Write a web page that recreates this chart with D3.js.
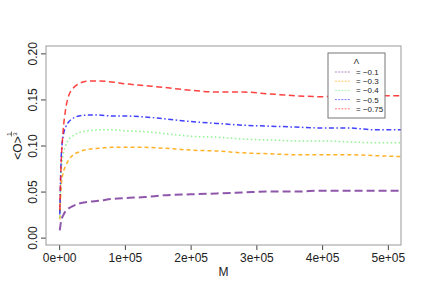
<!DOCTYPE html>
<html>
<head>
<meta charset="utf-8">
<script src="https://cdn.jsdelivr.net/npm/d3@7"></script>
<style>
  body { margin: 0; background: #fff; }
  svg { font-family: "Liberation Sans", Arial, sans-serif; }
</style>
</head>
<body>
<div id="chart"></div>
<script>
// values
const mValues = [1000, 3000, 6000, 10000, 15000, 20000, 30000, 45000, 60000, 80000, 100000,
  130000, 160000, 200000, 240000, 280000, 320000, 360000, 400000, 440000, 480000, 520000];

const lambdaLabels = ["= \u22120.1", "= \u22120.3", "= \u22120.4", "= \u22120.5", "= \u22120.75"];

const obsL01 = [0.008, 0.018, 0.024, 0.029, 0.032, 0.034, 0.037, 0.039, 0.040, 0.042, 0.043,
  0.044, 0.046, 0.047, 0.048, 0.049, 0.050, 0.050, 0.051, 0.051, 0.051, 0.051];
const obsL03 = [0.020, 0.055, 0.070, 0.078, 0.085, 0.089, 0.093, 0.096, 0.097, 0.098, 0.098,
  0.098, 0.097, 0.095, 0.094, 0.092, 0.091, 0.090, 0.090, 0.090, 0.089, 0.088];
const obsL04 = [0.022, 0.070, 0.090, 0.100, 0.107, 0.110, 0.114, 0.116, 0.117, 0.117, 0.116,
  0.115, 0.113, 0.110, 0.109, 0.107, 0.106, 0.105, 0.105, 0.104, 0.103, 0.103];
const obsL05 = [0.025, 0.085, 0.110, 0.120, 0.126, 0.129, 0.132, 0.133, 0.133, 0.132, 0.132,
  0.131, 0.129, 0.126, 0.124, 0.122, 0.121, 0.120, 0.119, 0.119, 0.117, 0.117];
const obsL075 = [0.030, 0.080, 0.115, 0.140, 0.155, 0.161, 0.167, 0.170, 0.170, 0.169, 0.167,
  0.165, 0.163, 0.160, 0.158, 0.158, 0.156, 0.154, 0.153, 0.154, 0.154, 0.154];

const xTicks = [0, 100000, 200000, 300000, 400000, 500000];
const xTickLabels = ["0e+00", "1e+05", "2e+05", "3e+05", "4e+05", "5e+05"];
const yTicks = [0, 0.05, 0.10, 0.15, 0.20];
const yTickLabels = ["0.00", "0.05", "0.10", "0.15", "0.20"];

const series = [
  { label: lambdaLabels[0], values: obsL01, color: "#7b3a9c", width: 2, dash: "8,4" },
  { label: lambdaLabels[1], values: obsL03, color: "#ffa500", width: 1.5, dash: "4,3" },
  { label: lambdaLabels[2], values: obsL04, color: "#7cf07c", width: 1.5, dash: "1.5,2.5" },
  { label: lambdaLabels[3], values: obsL05, color: "#2020ff", width: 1.5, dash: "5,2.5,1.5,2.5" },
  { label: lambdaLabels[4], values: obsL075, color: "#ff2020", width: 1.5, dash: "6,3.5" }
];

const width = 432, height = 300;
const margin = { left: 46, top: 46, right: 31, bottom: 55 };

const svg = d3.select("#chart").append("svg")
  .attr("width", width)
  .attr("height", height);

const x = d3.scaleLinear().domain([-20000, 520000]).range([margin.left, width - margin.right]);
const y = d3.scaleLinear().domain([-0.008, 0.208]).range([height - margin.bottom, margin.top]);

svg.append("clipPath").attr("id", "plotclip")
  .append("rect")
  .attr("x", margin.left).attr("y", margin.top)
  .attr("width", width - margin.left - margin.right)
  .attr("height", height - margin.top - margin.bottom);

const line = d3.line()
  .x((d, i) => x(mValues[i]))
  .y(d => y(d))
  .curve(d3.curveMonotoneX);

const lines = svg.append("g").attr("clip-path", "url(#plotclip)");
series.forEach(s => {
  lines.append("path")
    .attr("d", line(s.values))
    .attr("fill", "none")
    .attr("stroke", s.color)
    .attr("stroke-opacity", 0.85)
    .attr("stroke-width", s.width)
    .attr("stroke-dasharray", s.dash);
});

// axes
const xAxis = d3.axisBottom(x).tickValues(xTicks)
  .tickFormat((d, i) => xTickLabels[i]).tickSize(5).tickSizeOuter(0);
const xg = svg.append("g")
  .attr("transform", "translate(0," + (height - margin.bottom) + ")")
  .call(xAxis);
xg.select(".domain").remove();
xg.selectAll(".tick line").attr("stroke", "#444");
xg.selectAll(".tick text")
  .attr("y", 8).attr("font-size", 12).attr("fill", "#222")
  .attr("font-family", "Liberation Sans, Arial, sans-serif");

const yAxis = d3.axisLeft(y).tickValues(yTicks)
  .tickFormat((d, i) => yTickLabels[i]).tickSize(5).tickSizeOuter(0);
const yg = svg.append("g")
  .attr("transform", "translate(" + margin.left + ",0)")
  .call(yAxis);
yg.select(".domain").remove();
yg.selectAll(".tick line").attr("stroke", "#444");
yg.selectAll(".tick text")
  .attr("x", null).attr("dy", null)
  .attr("transform", "translate(-9,0) rotate(-90)")
  .attr("text-anchor", "middle")
  .attr("font-size", 12).attr("fill", "#222")
  .attr("font-family", "Liberation Sans, Arial, sans-serif");

// box
svg.append("rect")
  .attr("x", margin.left).attr("y", margin.top)
  .attr("width", width - margin.left - margin.right)
  .attr("height", height - margin.top - margin.bottom)
  .attr("fill", "none")
  .attr("stroke", "#999");

// axis titles
svg.append("text")
  .attr("x", (margin.left + width - margin.right) / 2)
  .attr("y", 276)
  .attr("text-anchor", "middle")
  .attr("font-size", 12).attr("fill", "#222")
  .text("M");

const ylab = svg.append("g").attr("transform", "translate(18,148) rotate(-90)");
ylab.append("text")
  .attr("x", 0).attr("y", 4)
  .attr("text-anchor", "middle")
  .attr("font-size", 12).attr("fill", "#222")
  .text("<O>");
ylab.append("text")
  .attr("x", 14).attr("y", -7.5)
  .attr("text-anchor", "middle")
  .attr("font-size", 6).attr("fill", "#222")
  .text("1");
ylab.append("line")
  .attr("x1", 11.5).attr("x2", 16.5)
  .attr("y1", -6.5).attr("y2", -6.5)
  .attr("stroke", "#222").attr("stroke-width", 0.6);
ylab.append("text")
  .attr("x", 14).attr("y", -1)
  .attr("text-anchor", "middle")
  .attr("font-size", 6).attr("fill", "#222")
  .text("3");

// legend
const lg = svg.append("g");
lg.append("rect")
  .attr("x", 328).attr("y", 53)
  .attr("width", 57).attr("height", 65)
  .attr("fill", "#fff")
  .attr("stroke", "#777");
lg.append("text")
  .attr("x", 356.5).attr("y", 64)
  .attr("text-anchor", "middle")
  .attr("font-size", 8).attr("fill", "#222")
  .text("\u039b");
series.forEach((s, i) => {
  const ly = 72 + i * 9.2;
  lg.append("line")
    .attr("x1", 335).attr("x2", 350)
    .attr("y1", ly).attr("y2", ly)
    .attr("stroke", s.color)
    .attr("stroke-opacity", 0.6)
    .attr("stroke-width", 1)
    .attr("stroke-dasharray", "2,1.2");
  lg.append("text")
    .attr("x", 356).attr("y", ly + 3)
    .attr("font-size", 8).attr("fill", "#222")
    .text(s.label);
});
</script>
</body>
</html>
